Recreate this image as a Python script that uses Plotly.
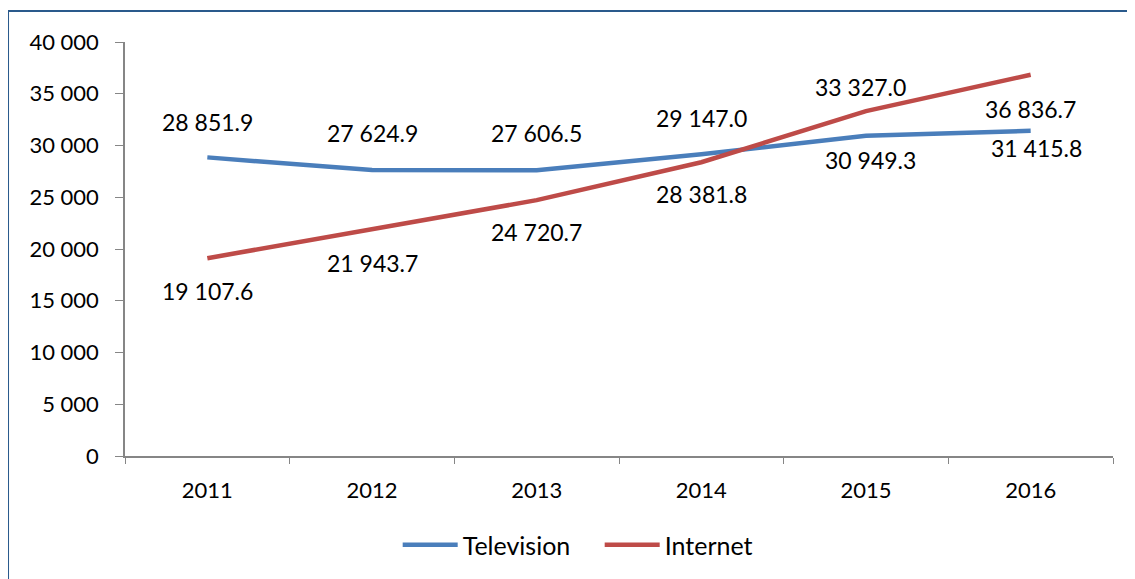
import plotly.graph_objects as go

# Data
years = ["2011", "2012", "2013", "2014", "2015", "2016"]
television = [28851.9, 27624.9, 27606.5, 29147.0, 30949.3, 31415.8]
internet = [19107.6, 21943.7, 24720.7, 28381.8, 33327.0, 36836.7]

BLUE = "#4A7EBB"
RED = "#BE4B48"
GRID = "#868686"
FONT = "Lato"


def fmt(v):
    return f"{v:,.1f}".replace(",", " ")


fig = go.Figure()
fig.add_trace(go.Scatter(x=years, y=television, name="Television", mode="lines",
                         line=dict(color=BLUE, width=4.5)))
fig.add_trace(go.Scatter(x=years, y=internet, name="Internet", mode="lines",
                         line=dict(color=RED, width=4.5)))

# data labels were moved by hand in the original; keep the same offsets
# (category axis positions given as serial numbers)
tv_shift = [(0, 35), (0, 37), (0, 37), (0, 36), (4, -24), (6, -17)]
net_shift = [(0, -33), (0, -34), (0, -32), (0, -32), (-6, 24), (0, -34)]
for i, (v, (dx, dy)) in enumerate(zip(television, tv_shift)):
    fig.add_annotation(x=i, y=v, text=fmt(v), showarrow=False,
                       xshift=dx, yshift=dy, font=dict(size=23, color="#000000"))
for i, (v, (dx, dy)) in enumerate(zip(internet, net_shift)):
    fig.add_annotation(x=i, y=v, text=fmt(v), showarrow=False,
                       xshift=dx, yshift=dy, font=dict(size=23, color="#000000"))

# outer frame
fig.add_shape(type="rect", xref="paper", yref="paper",
              x0=-0.1184, x1=1.2, y0=-0.5, y1=1.0749,
              line=dict(color="#2A5A8C", width=2))

fig.update_xaxes(type="category", range=[-0.5, 5.5], showline=True,
                 linecolor=GRID, linewidth=1.5, ticks="outside",
                 tickson="boundaries", ticklen=6, tickcolor=GRID,
                 ticklabelstandoff=14, showgrid=False,
                 tickfont=dict(size=22))
fig.update_yaxes(range=[0, 40000], dtick=5000, showline=True,
                 linecolor=GRID, linewidth=1.5, ticks="outside",
                 ticklen=8, tickcolor=GRID, ticklabelstandoff=12,
                 showgrid=False, zeroline=False, tickformat=",d",
                 tickfont=dict(size=22))

fig.update_layout(
    width=1135, height=579,
    margin=dict(l=117, r=30, t=34, b=131),
    paper_bgcolor="white", plot_bgcolor="white",
    separators=". ",
    font=dict(family=FONT, size=22, color="#000000"),
    showlegend=True,
    legend=dict(orientation="h", x=0.276, xanchor="left",
                y=-0.215, yanchor="middle", font=dict(size=25),
                itemwidth=55, entrywidth=132, entrywidthmode="pixels"),
)

fig.write_html("out.html")
